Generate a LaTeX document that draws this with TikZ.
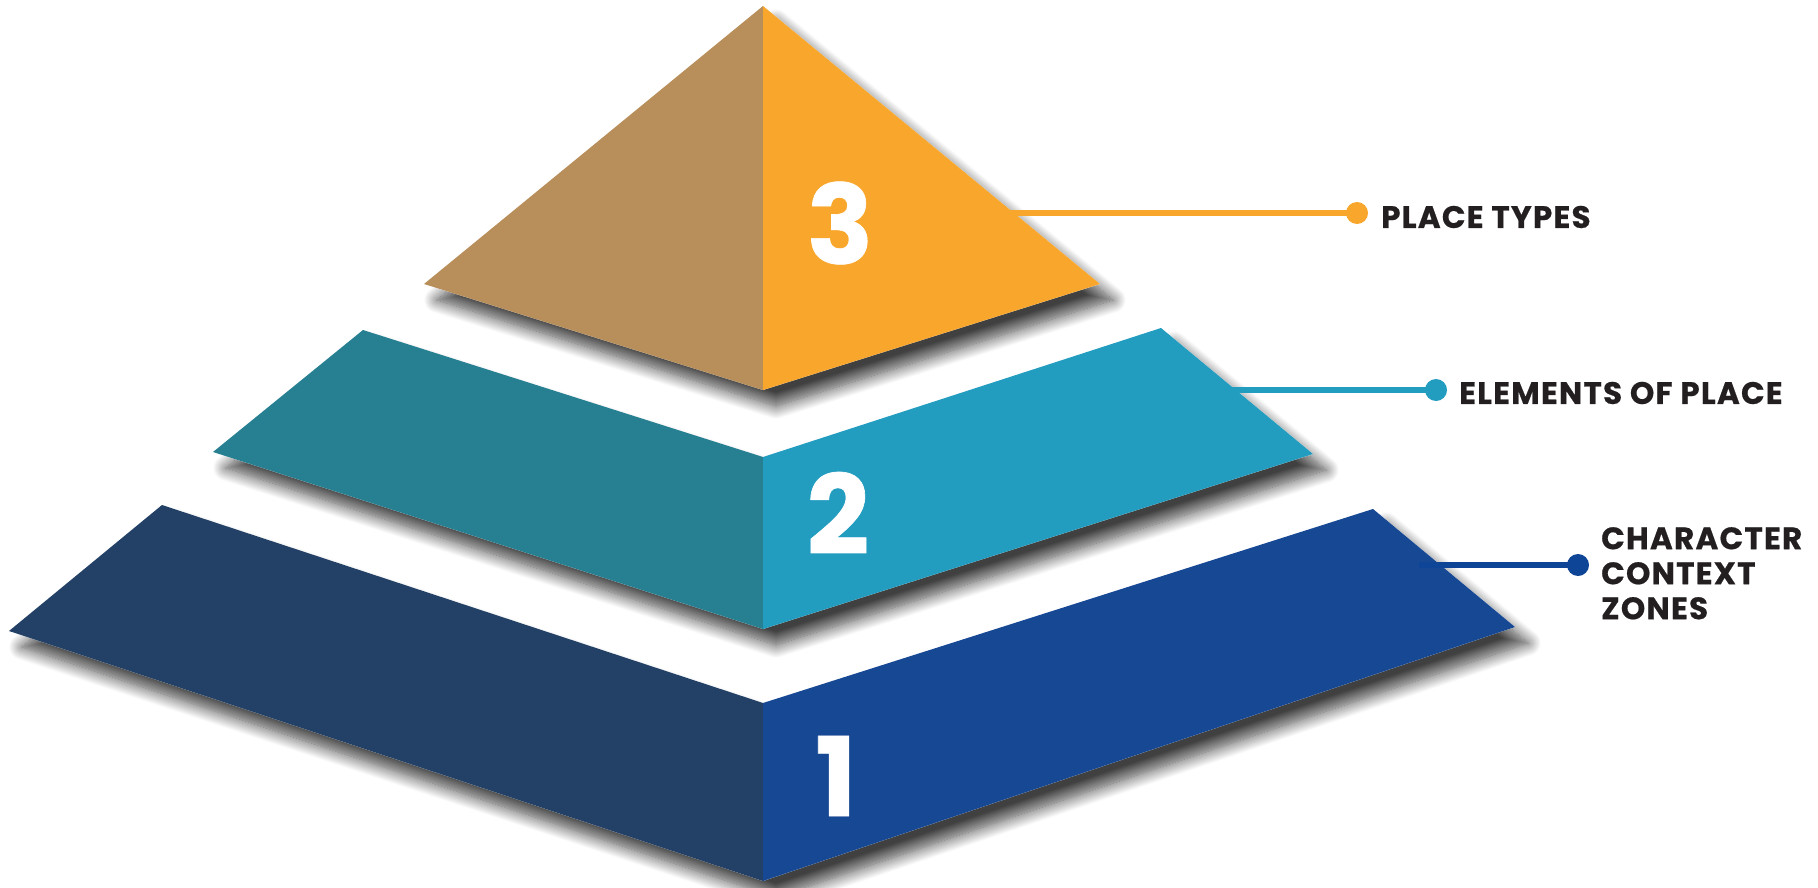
\documentclass[tikz,border=0pt]{standalone}
\usepackage{fontspec}
\newfontfamily\labfont{Poppins}[BoldFeatures={FakeBold=0.6}]
\newfontfamily\tagfont{Poppins}[LetterSpace=4,BoldFeatures={FakeBold=0.6}]
\usetikzlibrary{shadows.blur}
\definecolor{tanL}{HTML}{B88E5A}
\definecolor{orangeR}{HTML}{F9A72C}
\definecolor{tealL}{HTML}{277F92}
\definecolor{tealR}{HTML}{229CBF}
\definecolor{navyL}{HTML}{234166}
\definecolor{blueR}{HTML}{174893}
\definecolor{blueLine}{HTML}{0E4596}
\definecolor{ink}{HTML}{231F20}
\tikzset{
  layershadow/.style={fill=white, blur shadow={shadow xshift=13pt, shadow yshift=-16pt, shadow blur radius=13pt, shadow blur steps=16, shadow opacity=75}},
  numtext/.style={text=white, inner sep=0pt, font=\labfont\bfseries\fontsize{110}{110}\selectfont},
  labtext/.style={text=ink, inner sep=0pt, font=\tagfont\bfseries\fontsize{31}{35}\selectfont},
  dotnode/.style={circle, inner sep=0pt, minimum size=22pt},
  conn/.style={line width=5.4pt},
}
\begin{document}
\begin{tikzpicture}[x=1pt,y=-1pt]
\useasboundingbox (0,0) rectangle (1818,888);
% layer 1
\coordinate (l1lt) at (162,505);
\coordinate (l1ct) at (763,703);
\coordinate (l1rt) at (1373,509);
\coordinate (l1rb) at (1515,627);
\coordinate (l1cb) at (763,881);
\coordinate (l1lb) at (9,631);
% layer 2
\coordinate (l2lt) at (363,330);
\coordinate (l2ct) at (763,457);
\coordinate (l2rt) at (1161,328);
\coordinate (l2rb) at (1313,454);
\coordinate (l2cb) at (763,629);
\coordinate (l2lb) at (213,452);
% layer 3
\coordinate (l3a) at (763,6);
\coordinate (l3l) at (424,284);
\coordinate (l3b) at (763,390);
\coordinate (l3r) at (1100,284);

% shadows
\path[layershadow] (l1lt) -- (l1ct) -- (l1rt) -- (l1rb) -- (l1cb) -- (l1lb) -- cycle;
\path[layershadow] (l2lt) -- (l2ct) -- (l2rt) -- (l2rb) -- (l2cb) -- (l2lb) -- cycle;
\path[layershadow] (l3a) -- (l3r) -- (l3b) -- (l3l) -- cycle;

% faces
\fill[navyL] (l1lt) -- (l1ct) -- (l1cb) -- (l1lb) -- cycle;
\fill[blueR] (l1ct) -- (l1rt) -- (l1rb) -- (l1cb) -- cycle;
\fill[tealL] (l2lt) -- (l2ct) -- (l2cb) -- (l2lb) -- cycle;
\fill[tealR] (l2ct) -- (l2rt) -- (l2rb) -- (l2cb) -- cycle;
\fill[tanL] (l3a) -- (l3b) -- (l3l) -- cycle;
\fill[orangeR] (l3a) -- (l3r) -- (l3b) -- cycle;

% numbers
\node[numtext] (n3) at (840,223) {3};
\node[numtext] (n2) at (838,513) {2};
\node[numtext] (n1) at (836,776) {1};

% connectors
\coordinate (c3) at (1008,213);
\coordinate (c2) at (1230,390);
\coordinate (c1) at (1419,565);
\node[dotnode, fill=orangeR] (d3) at (1357,213) {};
\node[dotnode, fill=tealR] (d2) at (1436,390) {};
\node[dotnode, fill=blueLine] (d1) at (1578,565) {};
\draw[conn, orangeR] (c3) -- (d3.center);
\draw[conn, tealR] (c2) -- (d2.center);
\draw[conn, blueLine, line width=6pt] (c1) -- (d1.center);

% labels
\node[labtext, anchor=west] (t3) at (1381,217) {PLACE TYPES};
\node[labtext, anchor=west] (t2) at (1459,393) {ELEMENTS OF PLACE};
\node[labtext, anchor=north west, align=left] (t1) at (1601,527) {CHARACTER\\CONTEXT\\ZONES};
\end{tikzpicture}
\end{document}
